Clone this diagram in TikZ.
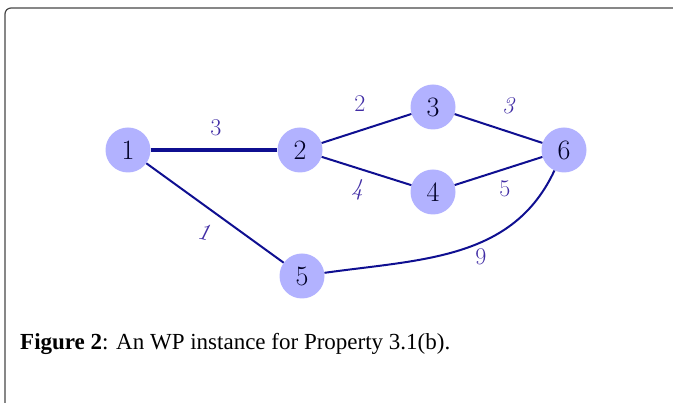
\documentclass[tikz,border=0pt]{standalone}
\usepackage{fontspec}
\newfontfamily\capfont{Liberation Serif}
\definecolor{nodefill}{RGB}{178,178,255}
\definecolor{edgeblue}{RGB}{15,15,145}
\definecolor{labelblue}{RGB}{65,45,165}
\definecolor{framegray}{RGB}{70,70,70}
\begin{document}
\begin{tikzpicture}[x=1pt,y=1pt,
  vertex/.style={circle,fill=nodefill,minimum size=45pt,inner sep=0pt,
    font=\fontsize{28}{28}\selectfont,text=black!85!blue},
  edge/.style={draw=edgeblue,line width=2pt},
  heavy/.style={draw=edgeblue,line width=3.8pt},
  wlabel/.style={font=\fontsize{24}{24}\selectfont,text=labelblue,inner sep=0pt}]
\useasboundingbox (0,0) rectangle (673,-403);
% open frame around the figure
\draw[framegray,line width=1.2pt,rounded corners=6pt] (5,-403) -- (5,-8) -- (673,-8);
% vertices
\node[vertex] (n1) at (128,-150) {1};
\node[vertex] (n2) at (300,-150) {2};
\node[vertex] (n3) at (433,-107) {3};
\node[vertex] (n4) at (433,-192) {4};
\node[vertex] (n6) at (564,-150) {6};
\node[vertex] (n5) at (302,-276) {5};
% edges
\draw[heavy] (n1) -- (n2);
\draw[edge] (n2) -- (n3);
\draw[edge] (n2) -- (n4);
\draw[edge] (n3) -- (n6);
\draw[edge] (n4) -- (n6);
\draw[edge] (n1) -- (n5);
\draw[edge] (n5) to[out=8,in=-115] (n6);
% weights
\node[wlabel] (w12) at (216,-128) {3};
\node[wlabel] (w23) at (360,-104) {2};
\node[wlabel] (w36) at (508,-106) {\itshape 3};
\node[wlabel] (w24) at (357,-190) {\itshape 4};
\node[wlabel] (w46) at (505,-189) {5};
\node[wlabel,rotate=-12] (w15) at (204,-232) {\itshape 1};
\node[wlabel] (w56) at (481,-257) {9};
% caption
\node[anchor=base west,inner sep=0pt,font=\capfont\fontsize{23}{23}\selectfont] (cap) at (20,-350)
  {\textbf{Figure 2}: An WP instance for Property 3.1(b).};
\end{tikzpicture}
\end{document}
